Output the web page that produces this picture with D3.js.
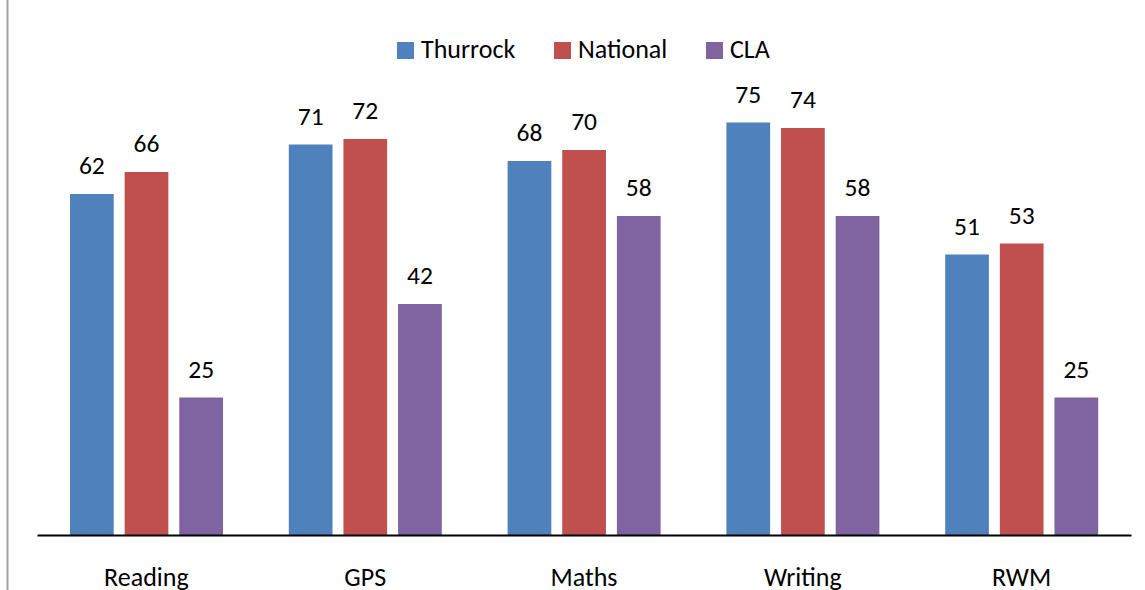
<!DOCTYPE html>
<html>
<head>
<meta charset="utf-8">
<script src="https://cdn.jsdelivr.net/npm/d3@7"></script>
<style>
  body { margin: 0; background: #fff; }
  text { font-family: Carlito, "Open Sans", sans-serif; fill: #000; }
</style>
</head>
<body>
<div id="chart"></div>
<script>
var categories = ["Reading", "GPS", "Maths", "Writing", "RWM"];
var seriesNames = ["Thurrock", "National", "CLA"];
var thurrock = [62, 71, 68, 75, 51];
var national = [66, 72, 70, 74, 53];
var cla = [25, 42, 58, 58, 25];
var colors = ["#4f81bd", "#c0504d", "#8064a2"];

var width = 1145, height = 590;
var baseY = 535;

var svg = d3.select("#chart").append("svg")
    .attr("width", width)
    .attr("height", height);

// left border of the frame
svg.append("line")
    .attr("x1", 7.5).attr("x2", 7.5)
    .attr("y1", 0).attr("y2", height)
    .attr("stroke", "#a0a0a0")
    .attr("stroke-width", 2);

var x0 = d3.scaleBand().domain(categories).range([37, 1131]).paddingInner(0).paddingOuter(0);
var x1 = d3.scaleBand().domain(seriesNames).range([33, 186]).paddingInner(0.2);
var y = d3.scaleLinear().domain([0, 80]).range([baseY, baseY - 80 * 5.5]);

var rows = categories.map(function(c, i) {
    return { cat: c, vals: [thurrock[i], national[i], cla[i]] };
});

var groups = svg.selectAll("g.cat")
    .data(rows)
  .enter().append("g")
    .attr("class", "cat")
    .attr("transform", function(d) { return "translate(" + x0(d.cat) + ",0)"; });

groups.selectAll("rect")
    .data(function(d) { return d.vals.map(function(v, j) { return { s: seriesNames[j], v: v, j: j }; }); })
  .enter().append("rect")
    .attr("x", function(d) { return x1(d.s); })
    .attr("width", x1.bandwidth())
    .attr("y", function(d) { return y(d.v); })
    .attr("height", function(d) { return baseY - y(d.v); })
    .attr("fill", function(d) { return colors[d.j]; });

groups.selectAll("text.val")
    .data(function(d) { return d.vals.map(function(v, j) { return { s: seriesNames[j], v: v }; }); })
  .enter().append("text")
    .attr("class", "val")
    .attr("x", function(d) { return x1(d.s) + x1.bandwidth() / 2; })
    .attr("y", function(d) { return y(d.v) - 20; })
    .attr("text-anchor", "middle")
    .style("font-size", "25.5px")
    .text(function(d) { return d.v; });

// x axis
var xAxis = d3.axisBottom(x0).tickSize(0).tickPadding(0);
var gX = svg.append("g")
    .attr("transform", "translate(0," + baseY + ")")
    .call(xAxis);
gX.select(".domain").attr("stroke", "#000").attr("stroke-width", 2);
gX.selectAll(".tick text")
    .attr("dy", 0)
    .attr("y", 51)
    .style("font-size", "26px")
    .style("font-family", "Carlito, 'Open Sans', sans-serif");

// legend
var legendX = [397, 554, 706];
var legend = svg.append("g").selectAll("g")
    .data(seriesNames)
  .enter().append("g")
    .attr("transform", function(d, i) { return "translate(" + legendX[i] + ",42)"; });
legend.append("rect")
    .attr("width", 17).attr("height", 17)
    .attr("fill", function(d, i) { return colors[i]; });
legend.append("text")
    .attr("x", 24).attr("y", 15.5)
    .style("font-size", "26px")
    .text(function(d) { return d; });
</script>
</body>
</html>
